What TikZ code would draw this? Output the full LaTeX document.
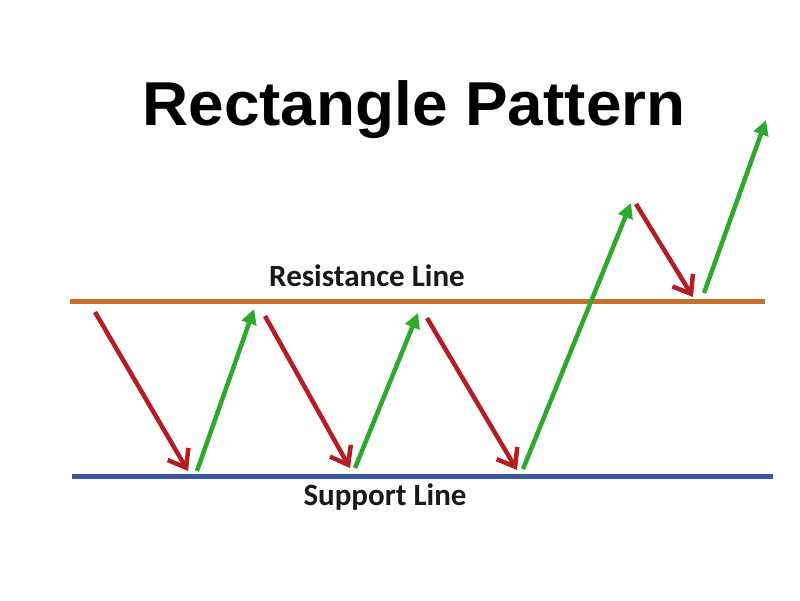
\documentclass[tikz,border=0pt]{standalone}
\usepackage{fontspec}
\setmainfont{Liberation Sans}
\newfontfamily\labelfont{Carlito}
\usetikzlibrary{arrows.meta}
\definecolor{resist}{RGB}{196,112,44}
\definecolor{support}{RGB}{58,88,158}
\definecolor{downred}{RGB}{180,30,35}
\definecolor{upgreen}{RGB}{45,170,45}
\tikzset{
  level/.style={line width=5pt},
  down/.style={draw=downred,line width=4.5pt,-{Straight Barb[length=16pt,width=24pt,line width=4.5pt]}},
  up/.style={draw=upgreen,line width=4.5pt,-{Triangle[length=15pt,width=15pt]}},
  lbl/.style={font=\labelfont\bfseries\fontsize{31}{36}\selectfont,text=black!90}
}
\begin{document}
\begin{tikzpicture}[x=1pt,y=-1pt]
\useasboundingbox[fill=white] (0,0) rectangle (800,600);
\node[xscale=1.03] (title) at (414,110) {\bfseries\fontsize{62}{70}\selectfont Rectangle Pattern};
% levels
\coordinate (rl) at (70,301);
\coordinate (rr) at (765,301);
\coordinate (sl) at (72,476);
\coordinate (sr) at (773,476);
\draw[level,draw=resist] (rl) -- (rr);
\draw[level,draw=support] (sl) -- (sr);
\node[lbl] (res) at (367,276) {Resistance Line};
\node[lbl] (sup) at (385,497) {Support Line};
% arrow points
\coordinate (a1) at (95,312);  \coordinate (b1) at (188,471);
\coordinate (a2) at (197,471); \coordinate (b2) at (254,309);
\coordinate (a3) at (265,316); \coordinate (b3) at (350,468);
\coordinate (a4) at (355,468); \coordinate (b4) at (418,313);
\coordinate (a5) at (427,318); \coordinate (b5) at (517,470);
\coordinate (a6) at (523,469); \coordinate (b6) at (631,203);
\coordinate (a7) at (636,204); \coordinate (b7) at (693,297);
\coordinate (a8) at (704,293); \coordinate (b8) at (766,120);
\draw[down] (a1) -- (b1);
\draw[up]   (a2) -- (b2);
\draw[down] (a3) -- (b3);
\draw[up]   (a4) -- (b4);
\draw[down] (a5) -- (b5);
\draw[up]   (a6) -- (b6);
\draw[down] (a7) -- (b7);
\draw[up]   (a8) -- (b8);
\end{tikzpicture}
\end{document}
